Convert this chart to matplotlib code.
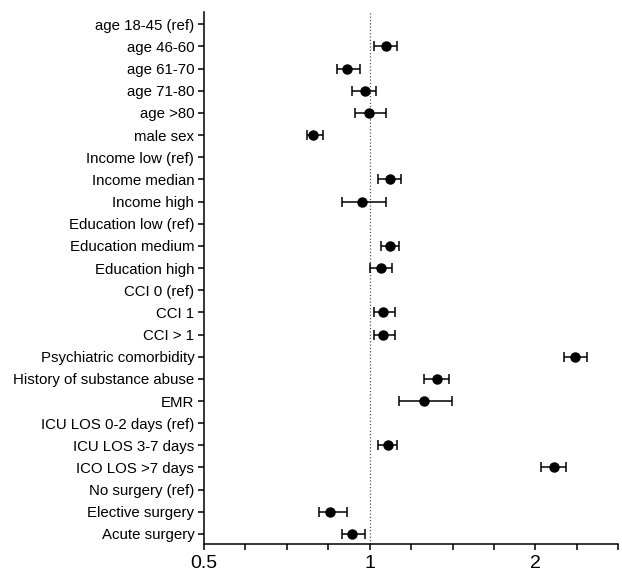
import numpy as np
import matplotlib.pyplot as plt
from matplotlib.ticker import FixedLocator, FixedFormatter, NullFormatter

plt.rcParams['font.family'] = ['Liberation Sans', 'DejaVu Sans']

labels = [
    'age 18-45 (ref)', 'age 46-60', 'age 61-70', 'age 71-80', 'age >80',
    'male sex', 'Income low (ref)', 'Income median', 'Income high',
    'Education low (ref)', 'Education medium', 'Education high',
    'CCI 0 (ref)', 'CCI 1', 'CCI > 1', 'Psychiatric comorbidity',
    'History of substance abuse', 'EMR', 'ICU LOS 0-2 days (ref)',
    'ICU LOS 3-7 days', 'ICO LOS >7 days', 'No surgery (ref)',
    'Elective surgery', 'Acute surgery',
]
nan = np.nan
estimate = [nan, 1.069, 0.910, 0.979, 0.998, 0.790, nan, 1.088, 0.967,
            nan, 1.090, 1.047, nan, 1.058, 1.058, 2.357, 1.326, 1.257,
            nan, 1.078, 2.159, nan, 0.848, 0.928]
ci_low = [nan, 1.018, 0.871, 0.930, 0.939, 0.770, nan, 1.037, 0.889,
          nan, 1.049, 1.000, nan, 1.018, 1.018, 2.250, 1.257, 1.129,
          nan, 1.035, 2.050, nan, 0.810, 0.889]
ci_high = [nan, 1.119, 0.961, 1.027, 1.069, 0.821, nan, 1.140, 1.069,
           nan, 1.129, 1.099, nan, 1.110, 1.110, 2.477, 1.396, 1.409,
           nan, 1.119, 2.269, nan, 0.910, 0.979]

est = np.array(estimate)
lo = np.array(ci_low)
hi = np.array(ci_high)
y = np.arange(len(labels))

fig = plt.figure(figsize=(6.22, 5.75), dpi=100)
ax = fig.add_axes([0.328, 0.054, 0.666, 0.925])

# reference line at OR = 1
ax.axvline(1, color='#555555', linestyle=':', linewidth=0.9, zorder=1)
ax.errorbar(est, y, xerr=[est - lo, hi - est], fmt='o', color='black',
            markersize=6.5, elinewidth=1.1, capsize=3.3, capthick=1.1, zorder=3)

ax.set_xscale('log', base=2)
ax.set_xlim(0.5, 2 ** 1.5)
ax.xaxis.set_major_locator(FixedLocator([0.5, 1, 2]))
ax.xaxis.set_major_formatter(FixedFormatter(['0.5', '1', '2']))
ax.xaxis.set_minor_locator(FixedLocator([2 ** (k / 4) for k in range(-4, 7)]))
ax.xaxis.set_minor_formatter(NullFormatter())

ax.set_ylim(len(labels) - 1 + 0.45, -0.55)
ax.set_yticks(y)
ax.set_yticklabels(labels, fontsize=10.8)

for s in ['top', 'right']:
    ax.spines[s].set_visible(False)
for s in ['left', 'bottom']:
    ax.spines[s].set_linewidth(1.1)

ax.tick_params(axis='y', length=4, width=1.1, pad=3)
ax.tick_params(axis='x', which='both', length=4, width=1.1, labelsize=14, pad=4)

fig.savefig('out.png', dpi=100)
